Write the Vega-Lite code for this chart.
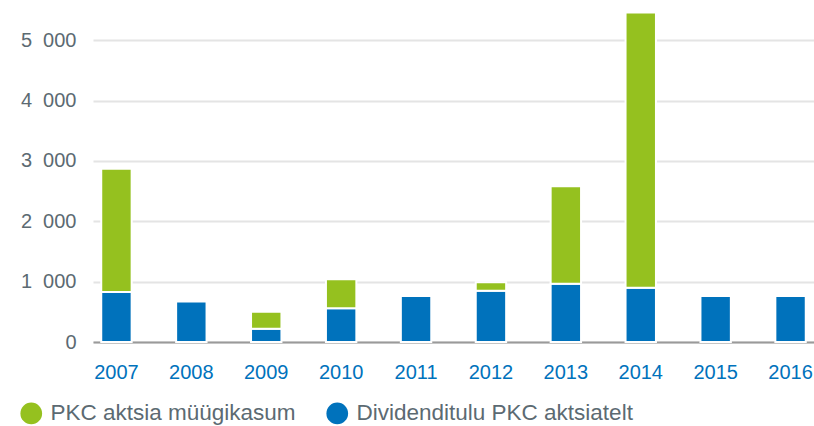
{
  "$schema": "https://vega.github.io/schema/vega-lite/v6.json",
  "autosize": "none",
  "width": 721,
  "height": 332,
  "padding": {"left": 93, "top": 10, "right": 0, "bottom": 84},
  "background": "white",
  "config": {
    "view": {"stroke": null},
    "font": "Liberation Sans"
  },
  "data": {
    "values": [
      {"year": "2007", "series": "Dividenditulu PKC aktsiatelt", "value": 830},
      {"year": "2007", "series": "PKC aktsia müügikasum", "value": 2040},
      {"year": "2008", "series": "Dividenditulu PKC aktsiatelt", "value": 670},
      {"year": "2009", "series": "Dividenditulu PKC aktsiatelt", "value": 220},
      {"year": "2009", "series": "PKC aktsia müügikasum", "value": 280},
      {"year": "2010", "series": "Dividenditulu PKC aktsiatelt", "value": 560},
      {"year": "2010", "series": "PKC aktsia müügikasum", "value": 480},
      {"year": "2011", "series": "Dividenditulu PKC aktsiatelt", "value": 760},
      {"year": "2012", "series": "Dividenditulu PKC aktsiatelt", "value": 850},
      {"year": "2012", "series": "PKC aktsia müügikasum", "value": 140},
      {"year": "2013", "series": "Dividenditulu PKC aktsiatelt", "value": 965},
      {"year": "2013", "series": "PKC aktsia müügikasum", "value": 1615},
      {"year": "2014", "series": "Dividenditulu PKC aktsiatelt", "value": 900},
      {"year": "2014", "series": "PKC aktsia müügikasum", "value": 4560},
      {"year": "2015", "series": "Dividenditulu PKC aktsiatelt", "value": 760},
      {"year": "2016", "series": "Dividenditulu PKC aktsiatelt", "value": 760}
    ]
  },
  "mark": {"type": "bar", "stroke": "white", "strokeWidth": 2},
  "encoding": {
    "x": {
      "field": "year",
      "type": "ordinal",
      "title": null,
      "scale": {"paddingInner": 0.594, "paddingOuter": 0.11},
      "axis": {
        "labelAngle": 0,
        "labelFontSize": 20,
        "labelColor": "#0072bc",
        "labelPadding": 20,
        "ticks": false,
        "domain": true,
        "domainColor": "#9a9a9a",
        "domainWidth": 2,
        "grid": false
      }
    },
    "y": {
      "field": "value",
      "type": "quantitative",
      "stack": "zero",
      "title": null,
      "scale": {"domain": [0, 5500], "nice": false},
      "axis": {
        "values": [0, 1000, 2000, 3000, 4000, 5000],
        "labelExpr": "replace(format(datum.value, ','), ',', '\u2007')",
        "labelFontSize": 20,
        "labelColor": "#5c6a72",
        "labelPadding": 17,
        "ticks": false,
        "domain": false,
        "grid": true,
        "gridColor": "#e4e4e4",
        "gridWidth": 2
      }
    },
    "order": {"field": "series", "type": "nominal", "sort": "ascending"},
    "color": {
      "field": "series",
      "type": "nominal",
      "title": null,
      "scale": {
        "domain": ["PKC aktsia müügikasum", "Dividenditulu PKC aktsiatelt"],
        "range": ["#95c11f", "#0072bc"]
      },
      "legend": {
        "orient": "none",
        "direction": "horizontal",
        "legendX": -73,
        "legendY": 392,
        "padding": 0,
        "symbolType": "circle",
        "symbolSize": 470,
        "symbolStrokeWidth": 0,
        "symbolOpacity": 1,
        "labelFontSize": 22.5,
        "labelColor": "#5c6a72",
        "labelOffset": 8,
        "columnPadding": 30,
        "labelLimit": 400
      }
    }
  }
}
